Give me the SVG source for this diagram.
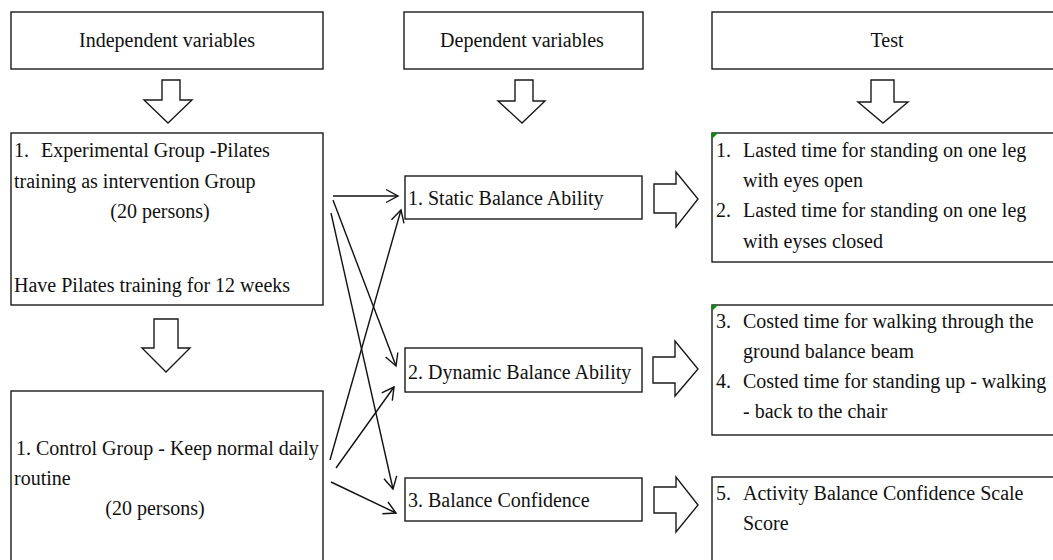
<svg xmlns="http://www.w3.org/2000/svg" width="1053" height="560" viewBox="0 0 1053 560">
<defs>
<style>
.box{fill:#fff;stroke:#1a1a1a;stroke-width:1.4}
.blk{fill:#fff;stroke:#1a1a1a;stroke-width:1.4;stroke-linejoin:miter}
text{font-family:"Liberation Serif","Times New Roman",serif;font-size:20px;fill:#111}
.c{text-anchor:middle}
.con line{stroke:#111;stroke-width:1.4;marker-end:url(#ah)}
.mark{fill:#0a8a0a}
</style>
<marker id="ah" markerUnits="userSpaceOnUse" markerWidth="16" markerHeight="16" viewBox="0 0 16 16" refX="13" refY="8" orient="auto">
<path d="M1,1.5 L13,8 L1,14.5" fill="none" stroke="#111" stroke-width="1.4"/>
</marker>
</defs>
<rect width="1053" height="560" fill="#fff"/>

<g id="hdr-independent">
<rect class="box" x="11" y="12" width="312" height="57"/>
<text class="c" x="167" y="47">Independent variables</text>
</g>
<g id="hdr-dependent">
<rect class="box" x="404" y="12" width="239" height="57"/>
<text class="c" x="522" y="47">Dependent variables</text>
</g>
<g id="hdr-test">
<rect class="box" x="712" y="12" width="360" height="57"/>
<text class="c" x="887" y="47">Test</text>
</g>

<g id="down-arrows">
<polygon class="blk" points="162,80 180,80 180,100 192,100 168,123 144,100 162,100"/>
<polygon class="blk" points="515,80 533,80 533,101 545,101 522,123 498,101 515,101"/>
<polygon class="blk" points="871,80 894,80 894,102 908,102 883,123 858,102 871,102"/>
<polygon class="blk" points="154,319 178,319 178,348 190,348 166,372 142,348 154,348"/>
</g>

<g id="experimental">
<rect class="box" x="11" y="133" width="312" height="172"/>
<text x="14" y="157">1.</text>
<text x="41" y="157">Experimental Group -Pilates</text>
<text x="14" y="188">training as intervention Group</text>
<text class="c" x="160" y="218">(20 persons)</text>
<text x="14" y="292">Have Pilates training for 12 weeks</text>
</g>

<g id="control">
<rect class="box" x="11" y="391" width="312" height="190"/>
<text x="16" y="455">1. Control Group - Keep normal daily</text>
<text x="14" y="485">routine</text>
<text class="c" x="155" y="515">(20 persons)</text>
</g>

<g id="static">
<rect class="box" x="405" y="176" width="237" height="43"/>
<text x="408" y="205">1. Static Balance Ability</text>
</g>
<g id="dynamic">
<rect class="box" x="405" y="348" width="237" height="44"/>
<text x="408" y="379">2. Dynamic Balance Ability</text>
</g>
<g id="confidence">
<rect class="box" x="405" y="478" width="237" height="43"/>
<text x="408" y="507">3. Balance Confidence</text>
</g>

<g id="right-arrows">
<polygon class="blk" points="654,184 676,184 676,172 698,199 676,227 676,213 654,213"/>
<polygon class="blk" points="653,357 675,357 675,341 698,369 675,396 675,383 653,383"/>
<polygon class="blk" points="654,487 676,487 676,477 698,505 676,532 676,513 654,513"/>
</g>

<g id="test1">
<rect class="box" x="712" y="133" width="360" height="129"/>
<polygon class="mark" points="712,133 718,133 712,139"/>
<text x="716" y="157">1.</text>
<text x="743" y="157">Lasted time for standing on one leg</text>
<text x="743" y="187">with eyes open</text>
<text x="716" y="217">2.</text>
<text x="743" y="217">Lasted time for standing on one leg</text>
<text x="743" y="248">with eyses closed</text>
</g>
<g id="test2">
<rect class="box" x="712" y="305" width="360" height="130"/>
<polygon class="mark" points="712,305 718,305 712,311"/>
<text x="716" y="328">3.</text>
<text x="743" y="328">Costed time for walking through the</text>
<text x="743" y="358">ground balance beam</text>
<text x="716" y="388">4.</text>
<text x="743" y="388">Costed time for standing up - walking</text>
<text x="743" y="418">- back to the chair</text>
</g>
<g id="test3">
<rect class="box" x="712" y="477" width="360" height="100"/>
<text x="716" y="500">5.</text>
<text x="743" y="500">Activity Balance Confidence Scale</text>
<text x="743" y="530">Score</text>
</g>

<g id="connectors" class="con">
<line x1="333" y1="196" x2="398" y2="196"/>
<line x1="333" y1="200" x2="396" y2="366"/>
<line x1="331" y1="213" x2="393" y2="489"/>
<line x1="330" y1="460" x2="401" y2="210"/>
<line x1="336" y1="468" x2="394" y2="387"/>
<line x1="331" y1="482" x2="396" y2="513"/>
</g>
</svg>
